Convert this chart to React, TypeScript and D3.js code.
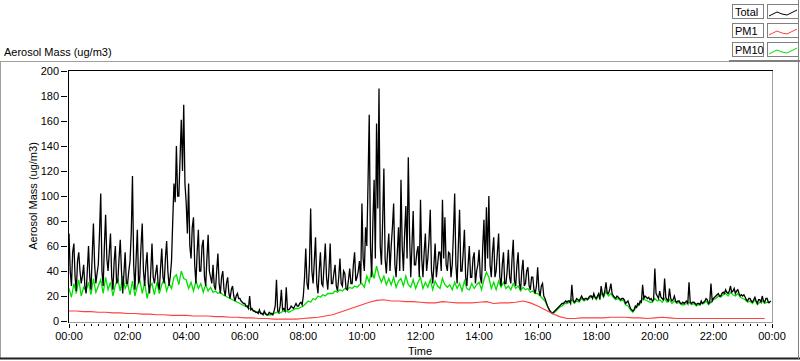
import React from "react";
import * as d3 from "d3";

// Total: 2.5-minute samples, 00:00 .. 23:57
const totalMass = [
  70, 40, 28, 55, 62, 35, 24, 48, 55, 40, 30, 36, 45, 28, 22, 40, 60, 35, 25, 52, 78, 45, 30, 38,
  45, 70, 102, 40, 28, 60, 85, 50, 40, 55, 70, 35, 25, 48, 60, 30, 32, 50, 65, 40, 22, 38, 55, 30,
  30, 40, 48, 70, 116, 45, 25, 50, 73, 30, 35, 60, 78, 40, 28, 45, 55, 30, 22, 40, 62, 35, 30, 38,
  45, 30, 25, 42, 58, 35, 30, 50, 64, 40, 28, 36, 48, 80, 110, 95, 140, 100, 100, 130, 161, 120, 173, 110,
  95, 70, 110, 60, 50, 75, 83, 45, 30, 55, 73, 40, 40, 60, 65, 35, 28, 50, 69, 40, 35, 30, 45, 28,
  25, 40, 54, 30, 22, 35, 40, 25, 20, 30, 35, 22, 18, 25, 28, 20, 16, 20, 22, 18, 18, 16, 15, 14,
  14, 12, 12, 10, 20, 9, 10, 8, 8, 7, 7, 6, 9, 6, 6, 5, 8, 6, 5, 5, 7, 6, 6, 5,
  8, 12, 33, 8, 7, 12, 25, 9, 10, 8, 27, 9, 9, 10, 12, 11, 10, 12, 14, 12, 12, 14, 15, 13,
  20, 35, 58, 30, 25, 45, 90, 40, 30, 48, 67, 30, 22, 40, 55, 30, 28, 45, 62, 35, 25, 40, 62, 30,
  30, 38, 45, 28, 24, 35, 50, 30, 28, 40, 38, 26, 25, 33, 42, 30, 30, 45, 55, 32, 35, 40, 48, 30,
  94, 50, 40, 75, 60, 110, 165, 60, 35, 80, 113, 50, 158, 90, 186, 60, 45, 80, 122, 50, 38, 55, 70, 40,
  60, 75, 94, 45, 35, 55, 75, 40, 113, 60, 40, 70, 92, 50, 131, 70, 35, 60, 88, 45, 45, 55, 60, 35,
  97, 50, 35, 55, 70, 40, 50, 65, 89, 40, 30, 45, 62, 35, 45, 55, 55, 40, 97, 50, 83, 45, 40, 55,
  54, 35, 45, 70, 102, 45, 30, 60, 89, 40, 40, 55, 73, 35, 28, 45, 60, 35, 35, 50, 55, 30, 40, 45,
  57, 35, 30, 60, 81, 40, 91, 50, 100, 45, 35, 55, 67, 35, 40, 55, 70, 35, 28, 45, 55, 30, 30, 40,
  57, 35, 30, 50, 65, 32, 28, 45, 55, 30, 25, 40, 49, 28, 30, 40, 43, 28, 25, 35, 35, 25, 22, 28,
  43, 25, 20, 28, 30, 20, 18, 15, 12, 10, 8, 7, 6, 7, 8, 9, 10, 11, 12, 13, 14, 14, 15, 16,
  15, 16, 16, 14, 29, 17, 15, 16, 18, 17, 16, 18, 20, 18, 17, 18, 18, 17, 19, 20, 20, 18, 22, 19,
  18, 20, 22, 17, 28, 22, 20, 24, 31, 22, 22, 25, 30, 22, 20, 19, 18, 20, 19, 18, 17, 18, 18, 17,
  14, 15, 16, 13, 10, 9, 8, 9, 12, 11, 14, 13, 16, 15, 29, 18, 20, 19, 18, 19, 17, 18, 16, 17,
  42, 22, 20, 18, 24, 19, 18, 17, 34, 19, 17, 16, 26, 18, 16, 17, 20, 16, 15, 16, 16, 14, 14, 15,
  14, 15, 16, 14, 31, 15, 14, 15, 15, 14, 13, 14, 14, 13, 16, 14, 15, 16, 18, 17, 14, 15, 30, 16,
  18, 19, 20, 21, 22, 20, 20, 22, 23, 22, 25, 23, 22, 24, 28, 23, 24, 26, 22, 24, 25, 22, 20, 21,
  20, 21, 19, 17, 16, 18, 18, 16, 15, 17, 19, 16, 14, 17, 17, 15, 20, 16, 15, 18, 18, 15, 15, 16,
];

// PM10: 5-minute samples
const pm10Mass = [
  26, 19, 30, 22, 33, 20, 27, 24, 31, 21, 34, 23,
  28, 33, 22, 35, 25, 31, 20, 29, 33, 24, 36, 26,
  30, 21, 32, 20, 28, 33, 22, 31, 18, 27, 30, 21,
  31, 22, 29, 34, 24, 30, 26, 35, 37, 29, 40, 34,
  33, 26, 31, 24, 32, 26, 30, 23, 29, 24, 27, 23,
  24, 22, 23, 21, 20, 19, 18, 17, 16, 15, 14, 13,
  12, 11, 10, 9, 8, 7, 7, 6, 6, 5, 5, 5,
  6, 7, 6, 7, 8, 8, 7, 8, 9, 10, 10, 11,
  12, 14, 16, 15, 18, 17, 20, 19, 21, 20, 22, 22,
  22, 24, 23, 25, 24, 26, 25, 27, 26, 28, 27, 29,
  30, 27, 36, 31, 41, 34, 44, 36, 31, 36, 29, 34,
  29, 35, 27, 32, 34, 28, 36, 29, 27, 33, 26, 31,
  35, 26, 31, 27, 33, 25, 32, 28, 26, 34, 29, 27,
  29, 25, 31, 26, 30, 24, 32, 26, 25, 30, 26, 29,
  31, 25, 33, 39, 35, 26, 31, 25, 32, 27, 31, 26,
  28, 25, 30, 26, 28, 24, 27, 25, 26, 23, 24, 22,
  22, 20, 18, 16, 12, 8, 6, 7, 9, 11, 12, 14,
  14, 15, 17, 14, 16, 15, 18, 16, 17, 18, 19, 20,
  17, 20, 22, 19, 24, 20, 22, 19, 17, 18, 16, 17,
  13, 12, 9, 7, 10, 12, 14, 18, 17, 16, 15, 15,
  18, 16, 17, 15, 18, 15, 17, 14, 16, 14, 15, 13,
  13, 14, 15, 13, 14, 12, 13, 14, 14, 16, 13, 15,
  17, 18, 20, 19, 21, 22, 20, 23, 21, 20, 22, 19,
  18, 17, 15, 16, 14, 17, 13, 15, 16, 14, 15, 14,
];

// PM1: 15-minute samples
const pm1Mass = [
  8, 8, 7.5, 7.5, 7, 7, 6.5, 6.5, 6, 6, 5.5, 5.5,
  5, 5, 4.5, 4.5, 4.5, 4, 4, 4, 3.5, 3.5, 3, 3,
  2.5, 2.5, 2, 2, 1.5, 1.5, 1.5, 1.5, 2, 2.5, 3, 4,
  5, 7, 9, 11, 13, 15, 16.5, 17, 16, 16, 15.5, 15.5,
  15, 14.5, 14.5, 15.5, 15, 14.5, 14.5, 14.5, 15, 15.5, 14, 14.5,
  14.5, 15, 16, 14.5, 12, 9, 6, 3.5, 2, 2, 2.5, 2.5,
  2.5, 2.5, 3, 3, 3, 2.5, 2.5, 2, 2.5, 3, 2.5, 2,
  2, 2, 2, 2, 2, 2, 2, 2, 2, 2, 2, 2,
];

const yTicks = [0, 20, 40, 60, 80, 100, 120, 140, 160, 180, 200];
const xTickLabels = ["00:00", "02:00", "04:00", "06:00", "08:00", "10:00", "12:00",
  "14:00", "16:00", "18:00", "20:00", "22:00", "00:00"];
const seriesNames = ["Total", "PM1", "PM10"];
const seriesColors = ["#000000", "#ff4040", "#00e000"];

const font = "'Liberation Sans', Arial, sans-serif";

export default function App() {
  const x = d3.scaleLinear().domain([0, 1440]).range([69, 772]);
  const y = d3.scaleLinear().domain([0, 200]).range([321, 71]);

  const line = (step: number) =>
    d3.line<number>()
      .x((_, i) => x(i * step))
      .y((d) => y(d));

  const minorTicks = d3.range(0, 1441, 15);
  const majorTicks = d3.range(0, 1441, 120);

  const sample = [[0, 4], [8, 0], [13, 2], [18, 3], [24, 0], [28, -2]];

  return (
    <svg width={800} height={361} style={{ position: "absolute", left: 0, top: 0 }}
      fontFamily={font} fontSize={11}>
      <rect width={800} height={361} fill="#fff" />
      {/* outer frame */}
      <line x1={0} x2={729} y1={61.5} y2={61.5} stroke="#a0a0a0" />
      <line x1={729} x2={800} y1={61} y2={61} stroke="#808080" strokeWidth={2} />
      <line x1={0.5} x2={0.5} y1={61} y2={359} stroke="#a0a0a0" />
      <line x1={0} x2={800} y1={358.5} y2={358.5} stroke="#202020" strokeWidth={2} />
      <line x1={798.5} x2={798.5} y1={0} y2={359} stroke="#808080" />

      <text x={4} y={56}>Aerosol Mass (ug/m3)</text>

      {/* legend */}
      {seriesNames.map((n, i) => {
        const top = 4 + i * 19;
        return (
          <g key={n}>
            <rect x={732.5} y={top + 0.5} width={31} height={14} fill="#fff" stroke="#808080" />
            <text x={735} y={top + 12}>{n}</text>
            <rect x={767.5} y={top + 0.5} width={31} height={14} fill="#fff" stroke="#808080" />
            <polyline
              points={sample.map(([dx, dy]) => `${769 + dx},${top + 8 + dy}`).join(" ")}
              fill="none" stroke={seriesColors[i]} strokeWidth={1} />
          </g>
        );
      })}

      {/* plot area */}
      <clipPath id="plotClip">
        <rect x={68} y={70} width={705} height={253} />
      </clipPath>
      <g clipPath="url(#plotClip)" fill="none">
        <path d={line(5)(pm10Mass) ?? ""} stroke="#00e000" strokeWidth={1.3} />
        <path d={line(2.5)(totalMass) ?? ""} stroke="#000" strokeWidth={1.3} />
        <path d={line(15)(pm1Mass) ?? ""} stroke="#ff4040" strokeWidth={1.1} />
      </g>
      <line x1={68} x2={772} y1={322.5} y2={322.5} stroke="#a0a0a0" />
      <line x1={772.5} x2={772.5} y1={70} y2={323} stroke="#a0a0a0" />
      <line x1={68} x2={773} y1={70.5} y2={70.5} stroke="#000" />
      <line x1={68.5} x2={68.5} y1={70} y2={323} stroke="#000" />

      {/* y axis */}
      {yTicks.map((t) => (
        <g key={t}>
          <line x1={61} x2={67} y1={Math.round(y(t)) + 0.5} y2={Math.round(y(t)) + 0.5} stroke="#000" />
          <text x={59} y={y(t) + 4} textAnchor="end">{t}</text>
        </g>
      ))}
      <text transform={`translate(37,196) rotate(-90)`} textAnchor="middle">Aerosol Mass (ug/m3)</text>

      {/* x axis */}
      {minorTicks.map((t) => (
        <line key={t} x1={Math.round(x(t)) + 0.5} x2={Math.round(x(t)) + 0.5}
          y1={324} y2={t % 120 === 0 ? 328 : 326} stroke="#000" />
      ))}
      {majorTicks.map((t, i) => (
        <text key={t} x={x(t)} y={340} textAnchor="middle">{xTickLabels[i]}</text>
      ))}
      <text x={420} y={355} textAnchor="middle">Time</text>
    </svg>
  );
}
